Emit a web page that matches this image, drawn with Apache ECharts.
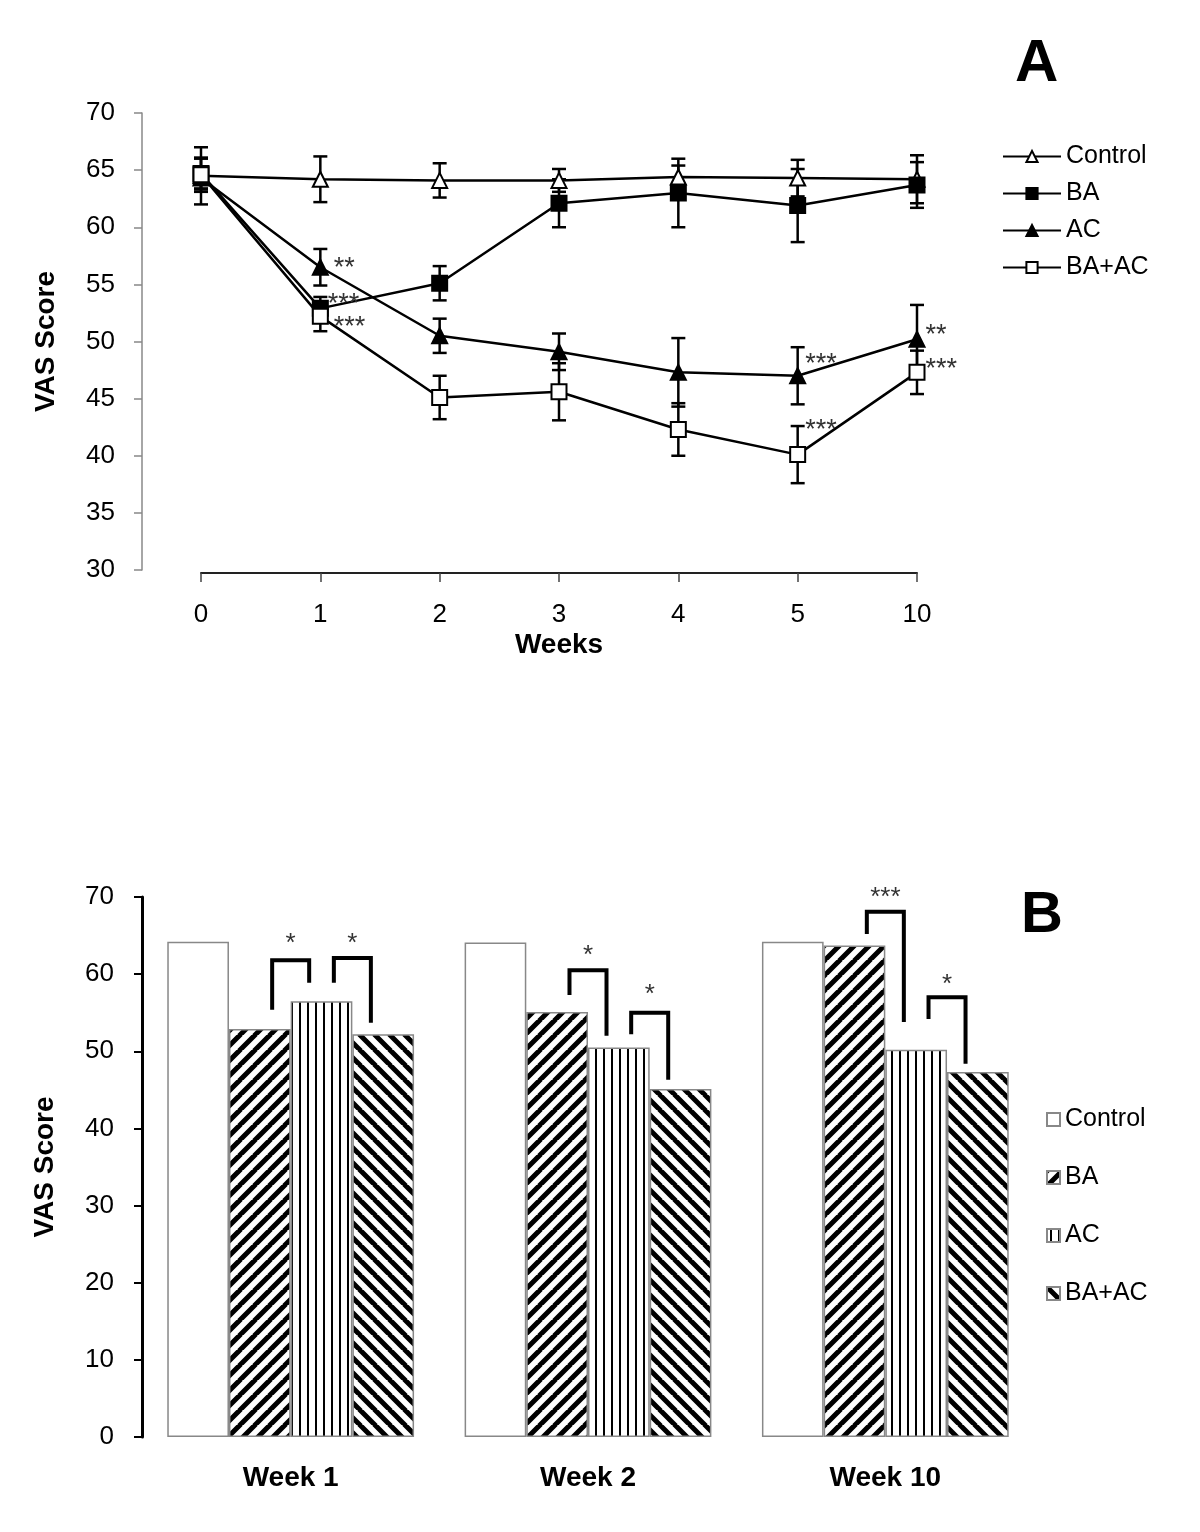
<!DOCTYPE html>
<html>
<head>
<meta charset="utf-8">
<script src="https://cdn.jsdelivr.net/npm/echarts@6/dist/echarts.min.js"></script>
<style>
html, body { margin: 0; padding: 0; background: #fff; }
#chart { width: 1200px; height: 1532px; }
</style>
</head>
<body>
<div id="chart"></div>
<script>
// ---- panel A data (mean +/- error) ----
var weeks = ['0', '1', '2', '3', '4', '5', '10'];
var groups = ['Control', 'BA', 'AC', 'BA+AC'];

var controlMean = [64.5, 64.2, 64.1, 64.1, 64.4, 64.3, 64.2];
var controlErr = [2.5, 2.0, 1.5, 1.0, 1.0, 1.6, 2.1];
var baMean = [64.7, 52.9, 55.1, 62.1, 63.0, 61.9, 63.7];
var baErr = [1.3, 1.0, 1.5, 2.1, 3.0, 3.2, 2.0];
var acMean = [64.3, 56.5, 50.5, 49.1, 47.3, 47.0, 50.2];
var acErr = [1.0, 1.6, 1.5, 1.6, 3.0, 2.5, 3.0];
var baacMean = [64.6, 52.2, 45.1, 45.6, 42.3, 40.1, 47.3];
var baacErr = [1.5, 1.3, 1.9, 2.5, 2.3, 2.5, 1.9];

// significance marks next to points
var baSig = ['', '***', '', '', '', '', ''];
var acSig = ['', '**', '', '', '', '***', '**'];
var baacSig = ['', '***', '', '', '', '***', '***'];

// ---- panel B data ----
var barWeeks = ['Week 1', 'Week 2', 'Week 10'];
var barWeekIndex = [1, 2, 6]; // positions in the weeks list above

// brackets: [week, leftBar, rightBar]
var bracketWeek = [0, 0, 1, 1, 2, 2];
var bracketFrom = [1, 2, 1, 2, 1, 2];
var bracketTo = [2, 3, 2, 3, 2, 3];
var bracketLeftEnd = [55.4, 58.9, 57.3, 52.2, 65.2, 54.2];
var bracketTop = [61.8, 62.1, 60.5, 55.0, 68.1, 57.0];
var bracketRightEnd = [58.9, 53.7, 52.0, 46.3, 53.8, 48.4];
var bracketStarY = [64.8, 64.8, 63.3, 58.2, 70.8, 59.5];
var bracketText = ['*', '*', '*', '*', '***', '*'];

var FONT = "'Liberation Sans', Arial, sans-serif";
var CAT_GAP = 0.17;

function stripes(dir) {
  var s = 15;
  var c = document.createElement('canvas');
  c.width = s; c.height = s;
  var ctx = c.getContext('2d');
  ctx.fillStyle = '#fff';
  ctx.fillRect(0, 0, s, s);
  ctx.strokeStyle = '#000';
  ctx.lineWidth = 5;
  ctx.beginPath();
  for (var k = -1; k <= 2; k++) {
    if (dir > 0) {
      ctx.moveTo(k * s + 1, -1);
      ctx.lineTo(k * s - s - 1, s + 1);
    } else {
      ctx.moveTo(k * s - 1, -1);
      ctx.lineTo(k * s + s + 1, s + 1);
    }
  }
  ctx.stroke();
  return { image: c, repeat: 'repeat' };
}

function vlines() {
  var c = document.createElement('canvas');
  c.width = 8; c.height = 8;
  var ctx = c.getContext('2d');
  ctx.fillStyle = '#fff';
  ctx.fillRect(0, 0, 8, 8);
  ctx.fillStyle = '#000';
  ctx.fillRect(3, 0, 2, 8);
  return { image: c, repeat: 'repeat' };
}

var sigOffsets = {
  'BA': { 1: [-6, -4] },
  'AC': { 1: [0, 1], 5: [-6, -11], 6: [-5, -4] },
  'BA+AC': { 1: [0, 11], 5: [-6, -24], 6: [-5, -3] }
};

function lineData(name, means, sig) {
  return means.map(function (v, i) {
    if (!sig[i]) return v;
    return {
      value: v,
      label: {
        show: true,
        formatter: sig[i],
        position: 'right',
        offset: sigOffsets[name][i],
        color: '#333',
        fontSize: 27,
        fontFamily: FONT
      }
    };
  });
}

function errData(means, errs) {
  return means.map(function (v, i) { return [i, v - errs[i], v + errs[i]]; });
}

function errItem(params, api) {
  var x = api.value(0);
  var lo = api.coord([x, api.value(1)]);
  var hi = api.coord([x, api.value(2)]);
  var hw = 7;
  var st = { stroke: '#000', lineWidth: 2.5 };
  return {
    type: 'group',
    children: [
      { type: 'line', shape: { x1: lo[0], y1: lo[1], x2: hi[0], y2: hi[1] }, style: st },
      { type: 'line', shape: { x1: lo[0] - hw, y1: lo[1], x2: lo[0] + hw, y2: lo[1] }, style: st },
      { type: 'line', shape: { x1: hi[0] - hw, y1: hi[1], x2: hi[0] + hw, y2: hi[1] }, style: st }
    ]
  };
}

function bracketItem(params, api) {
  var cat = api.value(0);
  var center = api.coord([cat, 0])[0];
  var band = api.coord([1, 0])[0] - api.coord([0, 0])[0];
  var barW = band * (1 - CAT_GAP) / 4;
  var start = center - barW * 2;
  var xL = start + (api.value(1) + 0.5) * barW + barW * 0.2;
  var xR = start + (api.value(2) + 0.5) * barW - barW * 0.2;
  var yL = api.coord([cat, api.value(3)])[1];
  var yT = api.coord([cat, api.value(4)])[1];
  var yR = api.coord([cat, api.value(5)])[1];
  var yS = api.coord([cat, api.value(6)])[1];
  return {
    type: 'group',
    children: [
      {
        type: 'polyline',
        shape: { points: [[xL, yL], [xL, yT], [xR, yT], [xR, yR]] },
        style: { stroke: '#000', lineWidth: 4, fill: null }
      },
      {
        type: 'text',
        style: {
          text: bracketText[params.dataIndex],
          x: (xL + xR) / 2, y: yS + 7,
          align: 'center', verticalAlign: 'middle',
          fontSize: 26, fontFamily: FONT, fill: '#333'
        }
      }
    ]
  };
}

var means = { 'Control': controlMean, 'BA': baMean, 'AC': acMean, 'BA+AC': baacMean };
var errs = { 'Control': controlErr, 'BA': baErr, 'AC': acErr, 'BA+AC': baacErr };
var sigs = { 'Control': ['', '', '', '', '', '', ''], 'BA': baSig, 'AC': acSig, 'BA+AC': baacSig };
var symbols = {
  'Control': ['triangle', '#fff'],
  'BA': ['rect', '#000'],
  'AC': ['triangle', '#000'],
  'BA+AC': ['rect', '#fff']
};
var fills = { 'Control': '#fff', 'BA': stripes(1), 'AC': vlines(), 'BA+AC': stripes(-1) };

var series = [];
groups.forEach(function (g) {
  series.push({
    type: 'custom',
    xAxisIndex: 0, yAxisIndex: 0,
    renderItem: errItem,
    data: errData(means[g], errs[g]),
    encode: { x: 0, y: [1, 2] },
    z: 1,
    silent: true
  });
});
groups.forEach(function (g) {
  series.push({
    name: g,
    type: 'line',
    xAxisIndex: 0, yAxisIndex: 0,
    data: lineData(g, means[g], sigs[g]),
    symbol: symbols[g][0],
    symbolSize: 15,
    showAllSymbol: true,
    lineStyle: { color: '#000', width: 2.5 },
    itemStyle: { color: symbols[g][1], borderColor: '#000', borderWidth: 2 },
    z: 3
  });
});
groups.forEach(function (g) {
  series.push({
    name: g + '_B',
    type: 'bar',
    xAxisIndex: 1, yAxisIndex: 1,
    barGap: '0%',
    barCategoryGap: (CAT_GAP * 100) + '%',
    data: barWeekIndex.map(function (i) { return means[g][i]; }),
    itemStyle: { color: fills[g], borderColor: '#888', borderWidth: 1.5 },
    z: 2
  });
});
series.push({
  type: 'custom',
  xAxisIndex: 1, yAxisIndex: 1,
  renderItem: bracketItem,
  data: bracketWeek.map(function (w, i) {
    return [w, bracketFrom[i], bracketTo[i], bracketLeftEnd[i], bracketTop[i], bracketRightEnd[i], bracketStarY[i]];
  }),
  encode: { x: 0, y: 4 },
  z: 4,
  silent: true
});

var chart = echarts.init(document.getElementById('chart'));
chart.setOption({
  backgroundColor: '#fff',
  animation: false,
  textStyle: { fontFamily: FONT },
  title: [
    { text: 'A', left: 1010, top: 29, textStyle: { fontSize: 60, fontWeight: 'bold', color: '#000', fontFamily: FONT } },
    { text: 'B', left: 1016, top: 882, textStyle: { fontSize: 58, fontWeight: 'bold', color: '#000', fontFamily: FONT } }
  ],
  legend: [
    {
      data: groups,
      orient: 'vertical',
      left: 997, top: 139,
      itemWidth: 58, itemHeight: 14, itemGap: 12,
      textStyle: { fontSize: 25, color: '#000', fontFamily: FONT },
      selectedMode: false
    },
    {
      data: groups.map(function (g) { return g + '_B'; }),
      formatter: function (n) { return n.replace('_B', ''); },
      orient: 'vertical',
      left: 1041, top: 1102,
      icon: 'rect',
      itemWidth: 13, itemHeight: 13, itemGap: 33,
      textStyle: { fontSize: 25, color: '#000', fontFamily: FONT },
      selectedMode: false
    }
  ],
  grid: [
    { left: 201, right: 283, top: 113, height: 457 },
    { left: 142, right: 166, top: 897, height: 540 }
  ],
  xAxis: [
    {
      gridIndex: 0,
      type: 'category',
      data: weeks,
      boundaryGap: false,
      offset: 3,
      name: 'Weeks',
      nameLocation: 'middle',
      nameGap: 58,
      nameTextStyle: { fontSize: 28, fontWeight: 'bold', color: '#000', fontFamily: FONT },
      axisLine: { lineStyle: { color: '#222', width: 2 } },
      axisTick: { length: 9, lineStyle: { color: '#444', width: 1.5 } },
      axisLabel: { fontSize: 26, color: '#000', margin: 29, fontFamily: FONT },
      splitLine: { show: false }
    },
    {
      gridIndex: 1,
      type: 'category',
      data: barWeeks,
      axisLine: { show: false },
      axisTick: { show: false },
      axisLabel: { fontSize: 28, fontWeight: 'bold', color: '#000', margin: 27, fontFamily: FONT },
      splitLine: { show: false }
    }
  ],
  yAxis: [
    {
      gridIndex: 0,
      type: 'value',
      min: 30, max: 70, interval: 5,
      offset: 59,
      name: 'VAS Score',
      nameLocation: 'middle',
      nameGap: 82,
      nameRotate: 90,
      nameTextStyle: { fontSize: 28, fontWeight: 'bold', color: '#000', fontFamily: FONT },
      axisLine: { show: true, lineStyle: { color: '#888', width: 1.5 } },
      axisTick: { show: true, length: 8, lineStyle: { color: '#888', width: 1.5 } },
      axisLabel: { fontSize: 26, color: '#000', margin: 27, fontFamily: FONT },
      splitLine: { show: false }
    },
    {
      gridIndex: 1,
      type: 'value',
      min: 0, max: 70, interval: 10,
      name: 'VAS Score',
      nameLocation: 'middle',
      nameGap: 83,
      nameRotate: 90,
      nameTextStyle: { fontSize: 28, fontWeight: 'bold', color: '#000', fontFamily: FONT },
      axisLine: { show: true, lineStyle: { color: '#000', width: 3 } },
      axisTick: { show: true, length: 8, lineStyle: { color: '#000', width: 2 } },
      axisLabel: { fontSize: 26, color: '#000', margin: 28, fontFamily: FONT },
      splitLine: { show: false }
    }
  ],
  series: series
});
</script>
</body>
</html>
